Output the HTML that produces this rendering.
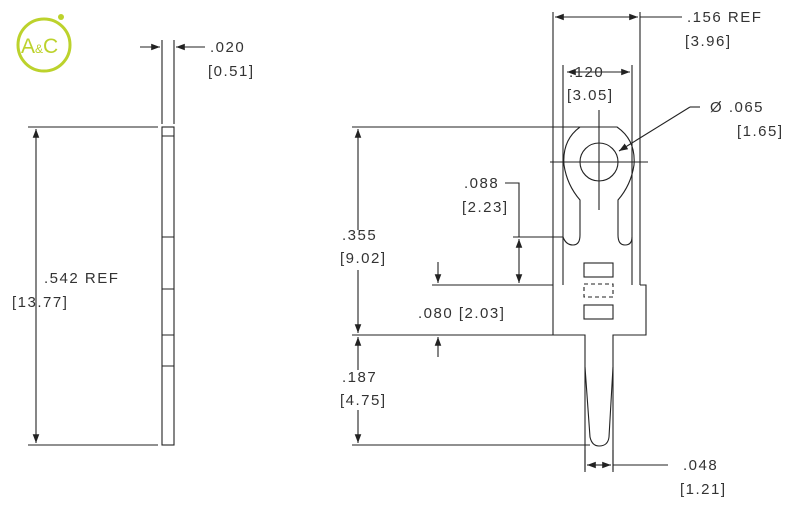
<!DOCTYPE html>
<html><head><style>body{margin:0;background:#fff}svg{display:block}text{font-family:"Liberation Sans",sans-serif;fill:#333;font-size:15px;letter-spacing:1.5px}</style></head><body>
<svg width="800" height="506" viewBox="0 0 800 506" xmlns="http://www.w3.org/2000/svg">
<defs><marker id="a" markerWidth="8" markerHeight="6" refX="8" refY="3" orient="auto"><path d="M0,0L8,3L0,6z" fill="#222"/></marker></defs>
<g fill="none" stroke="#bcd22c" stroke-width="3"><circle cx="44" cy="45" r="26"/></g>
<circle cx="61" cy="17" r="3" fill="#bcd22c"/>
<text x="21" y="53" style="fill:#bcd22c;font-size:21px;letter-spacing:0">A<tspan font-size="12">&amp;</tspan>C</text>
<g stroke="#222" stroke-width="1.1" fill="none">
<rect x="162" y="127" width="12" height="318"/>
<path d="M162 136H174M162 237H174M162 289H174M162 335H174M162 366H174"/>
<path d="M162 40V124M174 40V124"/>
<path d="M140 47H160" marker-end="url(#a)"/><path d="M205 47H176" marker-end="url(#a)"/>
<path d="M28 127H158M28 445H158"/>
<path d="M36 285V129" marker-end="url(#a)"/><path d="M36 285V443" marker-end="url(#a)"/>
<path d="M553 12V285M640 12V285M563 65V285M632 65V285"/>
<path d="M596 17H555" marker-end="url(#a)"/><path d="M596 17H638" marker-end="url(#a)"/><path d="M640 17H682"/>
<path d="M598 72H567" marker-end="url(#a)"/><path d="M598 72H630" marker-end="url(#a)"/>
<path d="M580 127H617Q636 140 634 165Q631 185 618 200V235Q618 245 625 245Q632 245 632 237M580 127Q562 140 564 165Q567 185 580 200V235Q580 245 573 245Q566 245 563 237"/>
<circle cx="599" cy="162" r="19"/>
<path d="M550 162H648M599 110V210M592 162H606M599 155V169"/>
<path d="M700 107H690"/><path d="M690 107L619 151" marker-end="url(#a)"/>
<path d="M553 285V335H585V470M613 470V335H646V285H640"/>
<rect x="584" y="263" width="29" height="14"/>
<rect x="584" y="284" width="29" height="13" stroke-dasharray="4,3"/>
<rect x="584" y="305" width="29" height="14"/>
<path d="M585 367L590 437Q592 446 599 446Q608 446 609 437L613 367"/>
<path d="M352 127H590M352 335H553M352 445H590"/>
<path d="M358 230V129" marker-end="url(#a)"/><path d="M358 270V333" marker-end="url(#a)"/>
<path d="M358 370V337" marker-end="url(#a)"/><path d="M358 410V443" marker-end="url(#a)"/>
<path d="M513 237H563M513 285H553"/>
<path d="M505 183H519V237"/><path d="M519 260V239" marker-end="url(#a)"/><path d="M519 260V283" marker-end="url(#a)"/>
<path d="M432 285H553"/>
<path d="M438 262V283" marker-end="url(#a)"/><path d="M438 357V337" marker-end="url(#a)"/>
<path d="M585 450V472M613 450V472"/>
<path d="M599 465H587" marker-end="url(#a)"/><path d="M599 465H611" marker-end="url(#a)"/><path d="M613 465H668"/>
</g>
<text x="210" y="52">.020</text><text x="208" y="76">[0.51]</text>
<text x="44" y="283">.542  REF</text><text x="12" y="307">[13.77]</text>
<text x="687" y="22">.156 REF</text><text x="685" y="46">[3.96]</text>
<text x="569" y="77">.120</text><text x="567" y="100">[3.05]</text>
<text x="710" y="112">Ø  .065</text><text x="737" y="136">[1.65]</text>
<text x="464" y="188">.088</text><text x="462" y="212">[2.23]</text>
<text x="342" y="240">.355</text><text x="340" y="263">[9.02]</text>
<text x="418" y="318">.080 [2.03]</text>
<text x="342" y="382">.187</text><text x="340" y="405">[4.75]</text>
<text x="683" y="470">.048</text><text x="680" y="494">[1.21]</text>
</svg>
</body></html>
